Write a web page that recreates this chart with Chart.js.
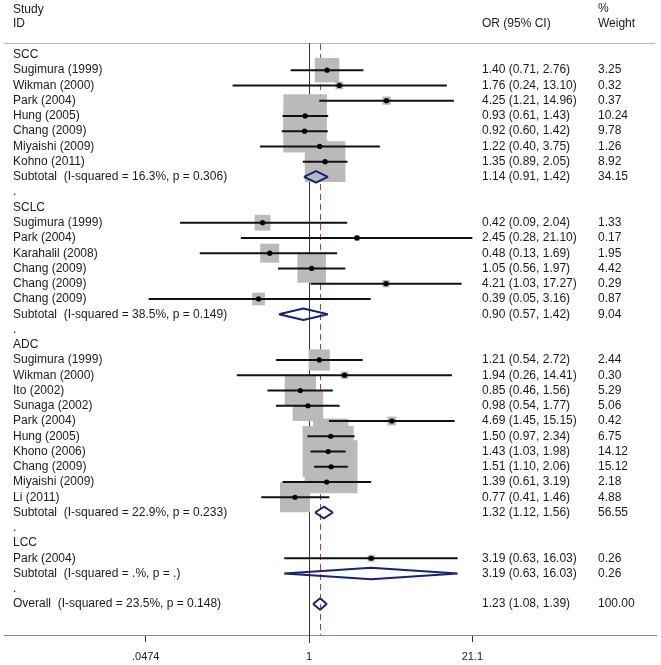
<!DOCTYPE html>
<html>
<head>
<meta charset="utf-8">
<script src="https://cdn.jsdelivr.net/npm/chart.js@4.4.1/dist/chart.umd.min.js"></script>
<style>
  html, body { margin: 0; padding: 0; background: #fff; }
</style>
</head>
<body>
<canvas id="forest" width="661" height="665"></canvas>
<script>
// rows from top to bottom
const rowLabels = [
  "SCC", "Sugimura (1999)", "Wikman (2000)", "Park (2004)", "Hung (2005)", "Chang (2009)",
  "Miyaishi (2009)", "Kohno (2011)", "Subtotal  (I-squared = 16.3%, p = 0.306)", ".",
  "SCLC", "Sugimura (1999)", "Park (2004)", "Karahalil (2008)", "Chang (2009)", "Chang (2009)",
  "Chang (2009)", "Subtotal  (I-squared = 38.5%, p = 0.149)", ".",
  "ADC", "Sugimura (1999)", "Wikman (2000)", "Ito (2002)", "Sunaga (2002)", "Park (2004)",
  "Hung (2005)", "Khono (2006)", "Chang (2009)", "Miyaishi (2009)", "Li (2011)",
  "Subtotal  (I-squared = 22.9%, p = 0.233)", ".",
  "LCC", "Park (2004)", "Subtotal  (I-squared = .%, p = .)", ".",
  "Overall  (I-squared = 23.5%, p = 0.148)"
];
// "s" = study, "d" = pooled (diamond), "" = text only
const rowKinds = [
  "", "s", "s", "s", "s", "s", "s", "s", "d", "",
  "", "s", "s", "s", "s", "s", "s", "d", "",
  "", "s", "s", "s", "s", "s", "s", "s", "s", "s", "s", "d", "",
  "", "s", "d", "",
  "d"
];
const oddsRatio = [
  null, 1.40, 1.76, 4.25, 0.93, 0.92, 1.22, 1.35, 1.14, null,
  null, 0.42, 2.45, 0.48, 1.05, 4.21, 0.39, 0.90, null,
  null, 1.21, 1.94, 0.85, 0.98, 4.69, 1.50, 1.43, 1.51, 1.39, 0.77, 1.32, null,
  null, 3.19, 3.19, null,
  1.23
];
const ciLower = [
  null, 0.71, 0.24, 1.21, 0.61, 0.60, 0.40, 0.89, 0.91, null,
  null, 0.09, 0.28, 0.13, 0.56, 1.03, 0.05, 0.57, null,
  null, 0.54, 0.26, 0.46, 0.54, 1.45, 0.97, 1.03, 1.10, 0.61, 0.41, 1.12, null,
  null, 0.63, 0.63, null,
  1.08
];
const ciUpper = [
  null, 2.76, 13.10, 14.96, 1.43, 1.42, 3.75, 2.05, 1.42, null,
  null, 2.04, 21.10, 1.69, 1.97, 17.27, 3.16, 1.42, null,
  null, 2.72, 14.41, 1.56, 1.77, 15.15, 2.34, 1.98, 2.06, 3.19, 1.46, 1.56, null,
  null, 16.03, 16.03, null,
  1.39
];
const weightPct = [
  null, 3.25, 0.32, 0.37, 10.24, 9.78, 1.26, 8.92, 34.15, null,
  null, 1.33, 0.17, 1.95, 4.42, 0.29, 0.87, 9.04, null,
  null, 2.44, 0.30, 5.29, 5.06, 0.42, 6.75, 14.12, 15.12, 2.18, 4.88, 56.55, null,
  null, 0.26, 0.26, null,
  100.00
];
const axisTicks = [0.0474, 1, 21.1];
const axisTickLabels = [".0474", "1", "21.1"];

const overallRow = rowKinds.length - 1;
const boxScale = 13.6;      // box side in px per sqrt(weight)
const diamondHalf = 0.38;   // half height of a diamond, in rows

const boxData = [];
const ciData = [];
const pointData = [];
const diamondData = [];
rowKinds.forEach((k, r) => {
  if (k === "s") {
    boxData.push({ x: oddsRatio[r], y: r, w: weightPct[r] });
    ciData.push({ x: ciLower[r], y: r }, { x: ciUpper[r], y: r }, { x: null, y: null });
    pointData.push({ x: oddsRatio[r], y: r });
  } else if (k === "d") {
    diamondData.push(
      { x: ciLower[r], y: r },
      { x: oddsRatio[r], y: r - diamondHalf },
      { x: ciUpper[r], y: r },
      { x: oddsRatio[r], y: r + diamondHalf },
      { x: ciLower[r], y: r },
      { x: null, y: null }
    );
  }
});

const FONT = '"Liberation Sans", Arial, sans-serif';

const forestText = {
  id: "forestText",
  beforeDatasetsDraw(chart) {
    const ctx = chart.ctx;
    const xs = chart.scales.x;
    const bottom = chart.chartArea.bottom;
    ctx.save();
    // header rule
    ctx.strokeStyle = "#b4b4b4";
    ctx.lineWidth = 1;
    ctx.beginPath();
    ctx.moveTo(4, 43.5);
    ctx.lineTo(655, 43.5);
    ctx.stroke();
    // line of no effect
    const x1 = Math.round(xs.getPixelForValue(1)) + 0.5;
    ctx.strokeStyle = "#333";
    ctx.beginPath();
    ctx.moveTo(x1, 43);
    ctx.lineTo(x1, bottom + 8);
    ctx.stroke();
    // overall estimate
    const xo = Math.round(xs.getPixelForValue(oddsRatio[overallRow])) + 0.5;
    ctx.strokeStyle = "#b03a48";
    ctx.setLineDash([6, 4]);
    ctx.beginPath();
    ctx.moveTo(xo, 44);
    ctx.lineTo(xo, bottom);
    ctx.stroke();
    ctx.restore();
  },
  afterDraw(chart) {
    const ctx = chart.ctx;
    const ys = chart.scales.y;
    ctx.save();
    ctx.font = "12px " + FONT;
    ctx.fillStyle = "#1a1a1a";
    ctx.textBaseline = "middle";
    ctx.textAlign = "left";
    ctx.fillText("Study", 13, 10);
    ctx.fillText("ID", 13, 24);
    ctx.fillText("OR (95% CI)", 482, 24);
    ctx.fillText("%", 598, 9);
    ctx.fillText("Weight", 598, 24);
    rowLabels.forEach((lab, r) => {
      const y = ys.getPixelForValue(r);
      ctx.fillText(lab, 13, y);
      if (oddsRatio[r] !== null) {
        const ci = oddsRatio[r].toFixed(2) + " (" + ciLower[r].toFixed(2) + ", " + ciUpper[r].toFixed(2) + ")";
        ctx.fillText(ci, 482, y);
        ctx.fillText(weightPct[r].toFixed(2), 598, y);
      }
    });
    ctx.restore();
  }
};

new Chart(document.getElementById("forest"), {
  type: "scatter",
  data: {
    datasets: [
      {
        data: pointData,
        order: 1,
        pointStyle: "circle",
        pointRadius: 2.6,
        pointBackgroundColor: "#000",
        pointBorderWidth: 0,
      },
      {
        data: ciData,
        order: 2,
        showLine: true,
        spanGaps: false,
        borderColor: "#111",
        borderWidth: 2,
        borderCapStyle: "butt",
        pointRadius: 0,
      },
      {
        data: diamondData,
        order: 2,
        showLine: true,
        spanGaps: false,
        borderColor: "#15237a",
        borderWidth: 2,
        borderJoinStyle: "bevel",
        pointRadius: 0,
        fill: false,
      },
      {
        data: boxData,
        order: 3,
        pointStyle: "rect",
        pointRadius: (c) => (boxScale * Math.sqrt(c.raw.w)) / Math.SQRT2,
        pointBackgroundColor: "#bababa",
        pointBorderWidth: 0,
      },
    ],
  },
  options: {
    responsive: false,
    animation: false,
    events: [],
    layout: { autoPadding: false, padding: { left: 4, right: 5, top: 0, bottom: 0 } },
    plugins: { legend: { display: false }, tooltip: { enabled: false } },
    scales: {
      x: {
        type: "logarithmic",
        position: "bottom",
        min: 0.003362,
        max: 651,
        afterBuildTicks: (scale) => {
          scale.ticks = axisTicks.map((v) => ({ value: v }));
        },
        afterFit: (scale) => {
          scale.height = 30;
        },
        grid: {
          drawOnChartArea: false,
          drawTicks: true,
          tickLength: 7,
          color: "#333",
        },
        border: { display: true, color: "#8a8a8a" },
        ticks: {
          autoSkip: false,
          maxRotation: 0,
          padding: 8,
          color: "#1a1a1a",
          font: { family: FONT, size: 11 },
          callback: (value, index) => axisTickLabels[index],
        },
      },
      y: {
        type: "linear",
        display: false,
        reverse: true,
        min: -3.598,
        max: 38.03,
      },
    },
  },
  plugins: [forestText],
});
</script>
</body>
</html>
